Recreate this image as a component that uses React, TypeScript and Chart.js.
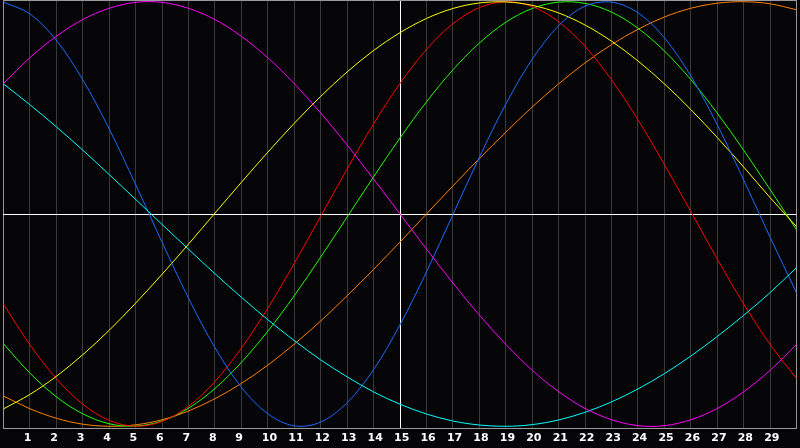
import React, { useEffect, useRef } from "react";
import { Chart, registerables } from "chart.js";

Chart.register(...registerables);

// x positions of the sampled points (0..30)
const X_VALUES = [0, 1, 2, 3, 4, 5, 6, 7, 8, 9, 10, 11, 12, 13, 14, 15, 16, 17, 18, 19, 20, 21, 22, 23, 24, 25, 26, 27, 28, 29, 30];

// tick labels shown under the grid lines 1..29
const TICK_LABELS = ["1", "2", "3", "4", "5", "6", "7", "8", "9", "10", "11", "12", "13", "14", "15", "16", "17", "18", "19", "20", "21", "22", "23", "24", "25", "26", "27", "28", "29"];

// series values (value range -1 .. 1)
const MAGENTA = [0.614, 0.736, 0.837, 0.916, 0.969, 0.997, 0.997, 0.969, 0.916, 0.837, 0.736, 0.614, 0.476, 0.325, 0.165, 0.0, -0.165, -0.325, -0.476, -0.614, -0.736, -0.837, -0.916, -0.969, -0.997, -0.997, -0.969, -0.916, -0.837, -0.736, -0.614];
const CYAN = [0.613, 0.515, 0.411, 0.301, 0.186, 0.069, -0.049, -0.166, -0.281, -0.392, -0.498, -0.596, -0.687, -0.767, -0.838, -0.896, -0.942, -0.975, -0.994, -1.0, -0.992, -0.97, -0.934, -0.885, -0.824, -0.752, -0.669, -0.577, -0.477, -0.37, -0.252];
const BLUE = [0.998, 0.943, 0.819, 0.633, 0.401, 0.139, -0.133, -0.396, -0.629, -0.816, -0.941, -0.998, -0.98, -0.889, -0.733, -0.522, -0.273, -0.003, 0.267, 0.517, 0.729, 0.887, 0.979, 0.998, 0.948, 0.83, 0.65, 0.42, 0.16, -0.11, -0.372];
const YELLOW = [-0.918, -0.85, -0.765, -0.663, -0.548, -0.42, -0.284, -0.142, 0.004, 0.149, 0.291, 0.427, 0.554, 0.669, 0.77, 0.854, 0.921, 0.968, 0.994, 0.999, 0.983, 0.947, 0.89, 0.814, 0.721, 0.613, 0.492, 0.36, 0.221, 0.077, -0.06];
const RED = [-0.424, -0.615, -0.775, -0.896, -0.972, -1.0, -0.977, -0.906, -0.789, -0.632, -0.444, -0.233, -0.011, 0.212, 0.424, 0.615, 0.775, 0.896, 0.972, 1.0, 0.977, 0.906, 0.789, 0.632, 0.444, 0.233, 0.011, -0.212, -0.424, -0.615, -0.775];
const GREEN = [-0.611, -0.749, -0.861, -0.941, -0.988, -0.999, -0.975, -0.915, -0.822, -0.699, -0.552, -0.385, -0.203, -0.014, 0.175, 0.358, 0.528, 0.679, 0.805, 0.903, 0.968, 0.998, 0.992, 0.951, 0.875, 0.768, 0.633, 0.475, 0.3, 0.115, -0.075];
const ORANGE = [-0.857, -0.917, -0.962, -0.99, -1.0, -0.993, -0.969, -0.928, -0.87, -0.798, -0.712, -0.613, -0.504, -0.385, -0.261, -0.132, 0.0, 0.132, 0.261, 0.385, 0.504, 0.613, 0.712, 0.798, 0.87, 0.928, 0.969, 0.993, 1.0, 0.99, 0.962];

const SERIES: { name: string; color: string; values: number[] }[] = [
  { name: "magenta", color: "#ff00ff", values: MAGENTA },
  { name: "cyan", color: "#00ffff", values: CYAN },
  { name: "blue", color: "#1a6cff", values: BLUE },
  { name: "yellow", color: "#ffff00", values: YELLOW },
  { name: "red", color: "#ff0000", values: RED },
  { name: "green", color: "#22ff00", values: GREEN },
  { name: "orange", color: "#ff8000", values: ORANGE },
];

const X_MIN = 0;
const X_MAX = 30;
const X_CENTER = 15;
const Y_LIMIT = 1.008;

const GRID_GRAY = "#3a3a3a";
const BORDER_GRAY = "#999999";

export default function App() {
  const canvasRef = useRef<HTMLCanvasElement | null>(null);

  useEffect(() => {
    const canvas = canvasRef.current;
    if (!canvas) return;
    const chart = new Chart(canvas, {
      type: "line",
      data: {
        datasets: SERIES.map((s) => ({
          label: s.name,
          data: X_VALUES.map((x, i) => ({ x, y: s.values[i] })),
          borderColor: s.color,
          backgroundColor: s.color,
          borderWidth: 1,
          pointRadius: 0,
          tension: 0.34,
          fill: false,
        })),
      },
      options: {
        animation: false,
        responsive: true,
        maintainAspectRatio: false,
        layout: { padding: 0 },
        plugins: {
          legend: { display: false },
          tooltip: { enabled: false },
          title: { display: false },
        },
        scales: {
          x: {
            type: "linear",
            min: X_MIN,
            max: X_MAX,
            border: { display: true, color: BORDER_GRAY, width: 1 },
            grid: {
              drawTicks: false,
              lineWidth: 1,
              color: (ctx: any) => {
                const v = ctx.tick ? ctx.tick.value : null;
                if (v === X_CENTER) return "#ffffff";
                if (v === X_MIN || v === X_MAX) return BORDER_GRAY;
                return GRID_GRAY;
              },
            },
            ticks: {
              stepSize: 1,
              autoSkip: false,
              maxRotation: 0,
              minRotation: 0,
              align: "start",
              labelOffset: -6,
              padding: 3.4,
              color: "#ffffff",
              font: { family: "'DejaVu Sans', sans-serif", size: 11, weight: "bold" },
              callback: (value: any) => {
                const v = Number(value);
                if (v >= 1 && v <= TICK_LABELS.length) return TICK_LABELS[v - 1];
                return "";
              },
            },
          },
          y: {
            type: "linear",
            min: -Y_LIMIT,
            max: Y_LIMIT,
            border: { display: false },
            afterBuildTicks: (scale: any) => {
              scale.ticks = [{ value: -Y_LIMIT }, { value: 0 }, { value: Y_LIMIT }];
            },
            grid: {
              drawTicks: false,
              lineWidth: 1,
              color: (ctx: any) => {
                const v = ctx.tick ? ctx.tick.value : null;
                if (v === 0) return "#ffffff";
                if (v === Y_LIMIT) return BORDER_GRAY;
                return "rgba(0,0,0,0)";
              },
            },
            ticks: { display: false },
          },
        },
      },
    });
    return () => chart.destroy();
  }, []);

  return (
    <div
      style={{
        position: "fixed",
        left: 0,
        top: 0,
        width: 800,
        height: 448,
        background: "#050508",
      }}
    >
      <canvas ref={canvasRef} />
    </div>
  );
}
